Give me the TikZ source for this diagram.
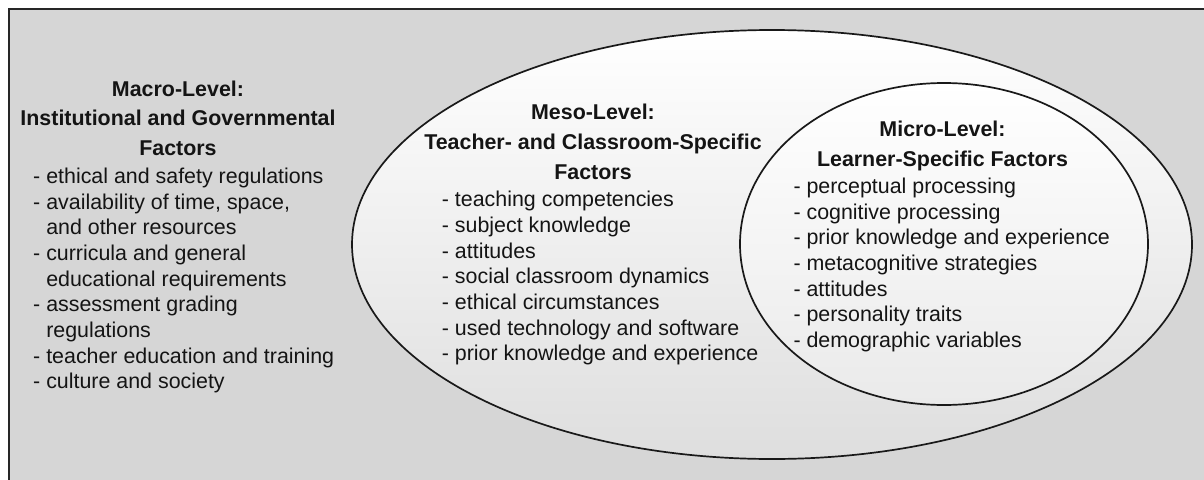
\documentclass[tikz,border=0pt]{standalone}
\usepackage{fontspec}
\setmainfont{Liberation Sans}
\definecolor{panel}{RGB}{214,214,214}
\definecolor{mesolow}{RGB}{222,222,222}
\definecolor{microlow}{RGB}{234,234,234}
\definecolor{ink}{RGB}{20,20,20}
\begin{document}
\begin{tikzpicture}[x=1pt,y=-1pt,
  txt/.style={inner sep=0pt, text=ink, font=\fontsize{21.4pt}{25.7pt}\selectfont},
  head/.style={txt, anchor=base, font=\fontsize{21.4pt}{25.7pt}\selectfont\bfseries},
  item/.style={txt, anchor=base west},
  ring/.style={line width=1.7pt, draw=black!90}]
\useasboundingbox (0,0) rectangle (1204,479);

% panel
\draw[fill=panel, line width=2.4pt, draw=black!85] (9,9) rectangle (1240,510);

% meso (outer) and micro (inner) ellipses
\draw[ring, top color=white, bottom color=mesolow] (772,244.5) ellipse [x radius=420pt, y radius=214.5pt];
\draw[ring, top color=white, bottom color=microlow] (944,244) ellipse [x radius=204pt, y radius=161pt];

% macro level
\node[head] (mac-h1) at (178,96) {Macro-Level:};
\node[head] (mac-h2) at (178,125.8) {Institutional and Governmental};
\node[head] (mac-h3) at (178,155.6) {Factors};
\node[item] (mac-1) at (33,183.3) {- ethical and safety regulations};
\node[item] (mac-2) at (33,209.0) {- availability of time, space,};
\node[item] (mac-3) at (33,234.7) {\hphantom{- }and other resources};
\node[item] (mac-4) at (33,260.4) {- curricula and general};
\node[item] (mac-5) at (33,286.1) {\hphantom{- }educational requirements};
\node[item] (mac-6) at (33,311.8) {- assessment grading};
\node[item] (mac-7) at (33,337.5) {\hphantom{- }regulations};
\node[item] (mac-8) at (33,363.2) {- teacher education and training};
\node[item] (mac-9) at (33,388.9) {- culture and society};

% meso level
\node[head] (mes-h1) at (593,119.3) {Meso-Level:};
\node[head] (mes-h2) at (593,149.3) {Teacher- and Classroom-Specific};
\node[head] (mes-h3) at (593,179.0) {Factors};
\node[item] (mes-1) at (441.7,206.7) {- teaching competencies};
\node[item] (mes-2) at (441.7,232.4) {- subject knowledge};
\node[item] (mes-3) at (441.7,258.1) {- attitudes};
\node[item] (mes-4) at (441.7,283.8) {- social classroom dynamics};
\node[item] (mes-5) at (441.7,309.5) {- ethical circumstances};
\node[item] (mes-6) at (441.7,335.2) {- used technology and software};
\node[item] (mes-7) at (441.7,360.9) {- prior knowledge and experience};

% micro level
\node[head] (mic-h1) at (942.5,136.7) {Micro-Level:};
\node[head] (mic-h2) at (942.5,166.0) {Learner-Specific Factors};
\node[item] (mic-1) at (793.3,193.3) {- perceptual processing};
\node[item] (mic-2) at (793.3,219.0) {- cognitive processing};
\node[item] (mic-3) at (793.3,244.7) {- prior knowledge and experience};
\node[item] (mic-4) at (793.3,270.4) {- metacognitive strategies};
\node[item] (mic-5) at (793.3,296.1) {- attitudes};
\node[item] (mic-6) at (793.3,321.8) {- personality traits};
\node[item] (mic-7) at (793.3,347.5) {- demographic variables};
\end{tikzpicture}
\end{document}
